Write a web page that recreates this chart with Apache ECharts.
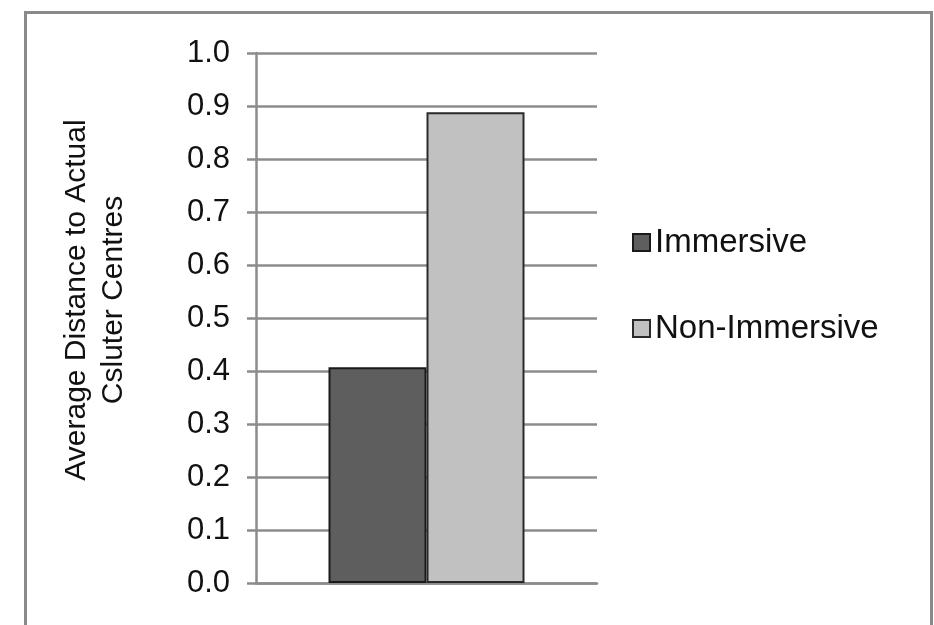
<!DOCTYPE html>
<html>
<head>
<meta charset="utf-8">
<script src="https://cdn.jsdelivr.net/npm/echarts@6/dist/echarts.min.js"></script>
<style>
  html, body { margin: 0; padding: 0; background: #fff; }
  #chart { width: 934px; height: 625px; }
</style>
</head>
<body>
<div id="chart"></div>
<script>
// Chart data
const categories = [''];
const seriesNames = ['Immersive', 'Non-Immersive'];
const immersiveValues = [0.407];
const nonImmersiveValues = [0.888];
const yTicks = { min: 0, max: 1, interval: 0.1 };
const yTitle = 'Average Distance to Actual\nCsluter Centres';

const FONT = '"Liberation Sans", Arial, sans-serif';
const GRID_GRAY = '#8c8c8c';

const chart = echarts.init(document.getElementById('chart'), null, { renderer: 'canvas' });

chart.setOption({
  backgroundColor: '#fff',
  animation: false,
  graphic: [{
    type: 'rect',
    left: 23, top: 10,
    shape: { width: 906, height: 700 },
    style: { fill: 'none', stroke: '#8a8a8a', lineWidth: 3 },
    silent: true
  }],
  grid: { left: 256, right: 337, top: 53, bottom: 42, containLabel: false },
  legend: {
    orient: 'vertical',
    left: 627,
    top: 221,
    itemWidth: 17,
    itemHeight: 17,
    itemGap: 53,
    icon: 'rect',
    textStyle: { fontFamily: FONT, fontSize: 33, color: '#111', lineHeight: 32 },
    data: seriesNames
  },
  xAxis: {
    type: 'category',
    data: categories,
    axisLine: { show: true, lineStyle: { color: GRID_GRAY, width: 2.5 } },
    axisTick: { show: false },
    axisLabel: { show: false }
  },
  yAxis: {
    type: 'value',
    min: yTicks.min,
    max: yTicks.max,
    interval: yTicks.interval,
    name: yTitle,
    nameLocation: 'middle',
    nameRotate: 90,
    nameGap: 124,
    nameTextStyle: {
      fontFamily: FONT, fontSize: 30, color: '#111', lineHeight: 37,
      padding: [0, 0, 0, 36]
    },
    axisLine: { show: true, lineStyle: { color: GRID_GRAY, width: 2.5 } },
    axisTick: { show: true, length: 9, lineStyle: { color: GRID_GRAY, width: 2.5 } },
    axisLabel: {
      margin: 26,
      fontFamily: FONT, fontSize: 31, color: '#111',
      formatter: v => v.toFixed(1)
    },
    splitLine: { show: true, lineStyle: { color: GRID_GRAY, width: 2.5 } }
  },
  series: [
    {
      name: seriesNames[0],
      type: 'bar',
      data: immersiveValues,
      barWidth: 98,
      barGap: '0%',
      itemStyle: { color: '#5e5e5e', borderColor: '#1a1a1a', borderWidth: 2 }
    },
    {
      name: seriesNames[1],
      type: 'bar',
      data: nonImmersiveValues,
      barWidth: 98,
      barGap: '0%',
      itemStyle: { color: '#c1c1c1', borderColor: '#2a2a2a', borderWidth: 2 }
    }
  ]
});
</script>
</body>
</html>
